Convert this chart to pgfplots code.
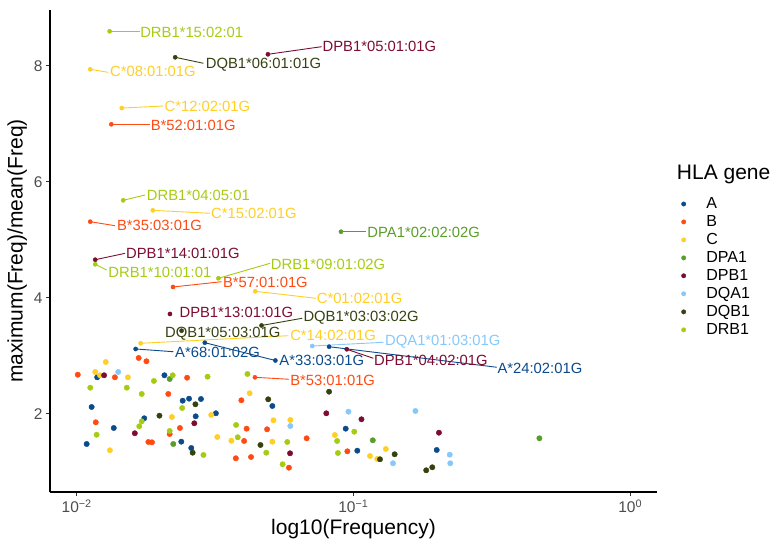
\documentclass[border=0pt]{standalone}
\usepackage{fontspec}
\setmainfont{Liberation Sans}
\usepackage{pgfplots}
\pgfplotsset{compat=1.18}
\definecolor{cA}{HTML}{0B4A8B}
\definecolor{cB}{HTML}{FF4A12}
\definecolor{cC}{HTML}{FFCF26}
\definecolor{cDPA}{HTML}{5A9E2A}
\definecolor{cDPB}{HTML}{7D0C32}
\definecolor{cDQA}{HTML}{87C8FA}
\definecolor{cDQB}{HTML}{35420F}
\definecolor{cDRB}{HTML}{A5CC12}
\newcommand{\lab}[4]{\node[anchor=west,inner sep=0pt,text=#1,font=\fontsize{14.8}{14.8}\selectfont] at (axis cs:#2,#3) {#4};}
\newcommand{\seg}[5]{\addplot[#1,line width=0.9pt,forget plot] coordinates {(#2,#3) (#4,#5)};}
\begin{document}
\begin{tikzpicture}[x=1pt,y=1pt]
\useasboundingbox (0,0) rectangle (774,547);
\begin{axis}[
  at={(50pt,55pt)}, anchor=south west,
  scale only axis, width=607pt, height=482pt,
  xmin=-2.0965, xmax=0.097, ymin=0.656, ymax=8.96,
  axis x line*=bottom, axis y line*=left,
  axis line style={line width=1.1pt, black},
  xtick={-2,-1,0}, xticklabels={10\textsuperscript{−2},10\textsuperscript{−1},10\textsuperscript{0}},
  ytick={2,4,6,8},
  /pgf/number format/assume math mode=true,
  minor tick num=0,
  tick align=outside, major tick length=4pt,
  tick style={line width=1pt, black!80},
  ticklabel style={font=\fontsize{15.5}{15.5}\selectfont, text=black!70},
  xlabel={log10(Frequency)}, ylabel={maximum(Freq)/mean(Freq)},
  label style={font=\fontsize{21}{21}\selectfont},
  clip=false,
  legend style={at={(rel axis cs:1.04,0.615)}, anchor=north west, draw=none, fill=none,
    inner sep=0pt, font=\fontsize{16}{16}\selectfont, row sep=1.4pt, column sep=18.5pt},
  legend cell align=left,
  legend image code/.code={\draw[#1, mark size=2.2pt] plot coordinates {(0pt,0pt)};},
]
% segments
\seg{cDRB}{-1.881}{8.593}{-1.771}{8.593}
\seg{cDQB}{-1.644}{8.145}{-1.542}{8.042}
\seg{cDPB}{-1.309}{8.197}{-1.115}{8.328}
\seg{cC}{-1.951}{7.938}{-1.886}{7.886}
\seg{cC}{-1.837}{7.271}{-1.687}{7.306}
\seg{cB}{-1.875}{6.991}{-1.735}{6.991}
\seg{cDRB}{-1.832}{5.681}{-1.753}{5.773}
\seg{cC}{-1.725}{5.509}{-1.518}{5.457}
\seg{cB}{-1.951}{5.313}{-1.862}{5.244}
\seg{cDPB}{-1.933}{4.658}{-1.825}{4.768}
\seg{cDRB}{-1.933}{4.579}{-1.892}{4.481}
\seg{cB}{-1.652}{4.188}{-1.476}{4.279}
\seg{cDRB}{-1.488}{4.338}{-1.301}{4.596}
\seg{cC}{-1.355}{4.114}{-1.135}{3.993}
\seg{cDPA}{-1.045}{5.140}{-0.954}{5.140}
\seg{cDQB}{-1.332}{3.525}{-1.185}{3.649}
\seg{cC}{-1.769}{3.218}{-1.235}{3.349}
\seg{cA}{-1.787}{3.120}{-1.651}{3.073}
\seg{cA}{-1.537}{3.228}{-1.282}{2.922}
\seg{cDQA}{-1.149}{3.171}{-0.892}{3.235}
\seg{cA}{-1.088}{3.159}{-0.482}{2.805}
\seg{cDPB}{-1.024}{3.115}{-0.928}{2.960}
\seg{cB}{-1.356}{2.632}{-1.232}{2.598}
% points (unlabelled), with legend
\addplot[only marks, mark=*, mark size=2.7pt, color=cA] table {
x y
-1.926 2.632
-1.683 2.667
-1.946 2.121
-1.617 2.229
-1.594 2.264
-1.551 2.258
-1.293 2.138
-1.756 1.926
-1.570 1.960
-1.497 2.012
-1.866 1.759
-1.622 1.523
-1.586 1.414
-1.964 1.483
-1.028 1.747
-0.986 1.368
-0.699 1.380
};
\addlegendentry{A}
\addplot[only marks, mark=*, mark size=2.7pt, color=cB] table {
x y
-1.776 2.965
-1.748 2.908
-1.996 2.677
-1.862 2.632
-1.601 2.625
-1.669 2.345
-1.405 2.236
-1.931 1.857
-1.741 1.518
-1.728 1.512
-1.627 1.759
-1.664 1.655
-1.386 1.747
-1.395 1.535
-1.312 1.736
-1.425 1.237
-1.370 1.259
-1.233 1.075
-1.169 1.581
-1.022 1.357
};
\addlegendentry{B}
\addplot[only marks, mark=*, mark size=2.7pt, color=cC] table {
x y
-1.895 2.896
-1.933 2.724
-1.916 2.667
-1.815 2.632
-1.375 2.357
-1.656 1.948
-1.514 1.983
-1.880 1.375
-1.492 1.604
-1.441 1.540
-1.289 1.891
-1.293 1.523
-1.228 1.897
-1.067 1.638
-0.883 1.397
-0.940 1.276
-0.914 1.225
};
\addlegendentry{C}
\addplot[only marks, mark=*, mark size=2.7pt, color=cDPA] table {
x y
-1.664 2.603
-1.651 1.483
-0.930 1.547
-0.328 1.581
};
\addlegendentry{DPA1}
\addplot[only marks, mark=*, mark size=2.7pt, color=cDPB] table {
x y
-1.901 2.667
-1.575 1.840
-1.790 1.668
-1.229 1.323
-1.098 2.012
-0.971 1.909
-0.691 1.678
};
\addlegendentry{DPB1}
\addplot[only marks, mark=*, mark size=2.7pt, color=cDQA] table {
x y
-1.850 2.724
-1.228 1.793
-1.018 2.040
-0.776 2.052
-0.857 1.151
-0.652 1.299
-0.650 1.151
};
\addlegendentry{DQA1}
\addplot[only marks, mark=*, mark size=2.7pt, color=cDQB] table {
x y
-1.571 2.167
-1.308 2.253
-1.701 1.971
-1.581 1.333
-1.336 1.466
-1.088 2.384
-0.904 1.220
-0.851 1.306
-0.737 1.030
-0.715 1.082
};
\addlegendentry{DQB1}
\addplot[only marks, mark=*, mark size=2.7pt, color=cDRB] table {
x y
-1.951 2.453
-1.819 2.453
-1.721 2.569
-1.653 2.667
-1.527 2.643
-1.383 2.689
-1.765 2.345
-1.619 2.103
-1.765 1.874
-1.774 1.788
-1.928 1.643
-1.664 1.707
-1.542 1.294
-1.424 1.811
-1.418 1.599
-1.315 1.333
-1.239 1.518
-1.256 1.134
-0.997 1.695
-1.059 1.535
-1.056 1.328
};
\addlegendentry{DRB1}
% labelled points
\addplot[only marks, mark=*, mark size=2.1pt, color=cA, forget plot] table {
x y
-1.787 3.120
-1.537 3.228
-1.282 2.922
-1.088 3.159
};
\addplot[only marks, mark=*, mark size=2.1pt, color=cB, forget plot] table {
x y
-1.875 6.991
-1.951 5.313
-1.652 4.188
-1.356 2.632
};
\addplot[only marks, mark=*, mark size=2.1pt, color=cC, forget plot] table {
x y
-1.951 7.938
-1.837 7.271
-1.725 5.509
-1.355 4.114
-1.769 3.218
};
\addplot[only marks, mark=*, mark size=2.1pt, color=cDPA, forget plot] table {
x y
-1.045 5.140
};
\addplot[only marks, mark=*, mark size=2.1pt, color=cDPB, forget plot] table {
x y
-1.309 8.197
-1.933 4.658
-1.663 3.723
-1.024 3.115
};
\addplot[only marks, mark=*, mark size=2.1pt, color=cDQA, forget plot] table {
x y
-1.149 3.171
};
\addplot[only marks, mark=*, mark size=2.1pt, color=cDQB, forget plot] table {
x y
-1.644 8.145
-1.332 3.525
-1.621 3.435
};
\addplot[only marks, mark=*, mark size=2.1pt, color=cDRB, forget plot] table {
x y
-1.881 8.593
-1.832 5.681
-1.933 4.579
-1.488 4.338
};
% labels
\lab{cDRB}{-1.771}{8.576}{DRB1*15:02:01}
\lab{cDQB}{-1.534}{8.024}{DQB1*06:01:01G}
\lab{cDPB}{-1.112}{8.328}{DPB1*05:01:01G}
\lab{cC}{-1.880}{7.897}{C*08:01:01G}
\lab{cC}{-1.683}{7.301}{C*12:02:01G}
\lab{cB}{-1.733}{6.979}{B*52:01:01G}
\lab{cDRB}{-1.747}{5.761}{DRB1*04:05:01}
\lab{cC}{-1.515}{5.451}{C*15:02:01G}
\lab{cB}{-1.855}{5.244}{B*35:03:01G}
\lab{cDPB}{-1.822}{4.768}{DPB1*14:01:01G}
\lab{cDRB}{-1.886}{4.441}{DRB1*10:01:01}
\lab{cB}{-1.472}{4.274}{B*57:01:01G}
\lab{cDRB}{-1.299}{4.584}{DRB1*09:01:02G}
\lab{cC}{-1.133}{3.993}{C*01:02:01G}
\lab{cDPA}{-0.950}{5.130}{DPA1*02:02:02G}
\lab{cDPB}{-1.629}{3.752}{DPB1*13:01:01G}
\lab{cDQB}{-1.181}{3.666}{DQB1*03:03:02G}
\lab{cDQB}{-1.681}{3.378}{DQB1*05:03:01G}
\lab{cC}{-1.229}{3.349}{C*14:02:01G}
\lab{cA}{-1.645}{3.056}{A*68:01:02G}
\lab{cA}{-1.268}{2.925}{A*33:03:01G}
\lab{cDQA}{-0.886}{3.246}{DQA1*01:03:01G}
\lab{cA}{-0.480}{2.792}{A*24:02:01G}
\lab{cDPB}{-0.926}{2.918}{DPB1*04:02:01G}
\lab{cB}{-1.229}{2.586}{B*53:01:01G}
\node[anchor=base west, inner sep=0pt, font=\fontsize{21}{21}\selectfont] at (rel axis cs:1.0325,0.6488) {HLA gene};
\end{axis}
\end{tikzpicture}
\end{document}
